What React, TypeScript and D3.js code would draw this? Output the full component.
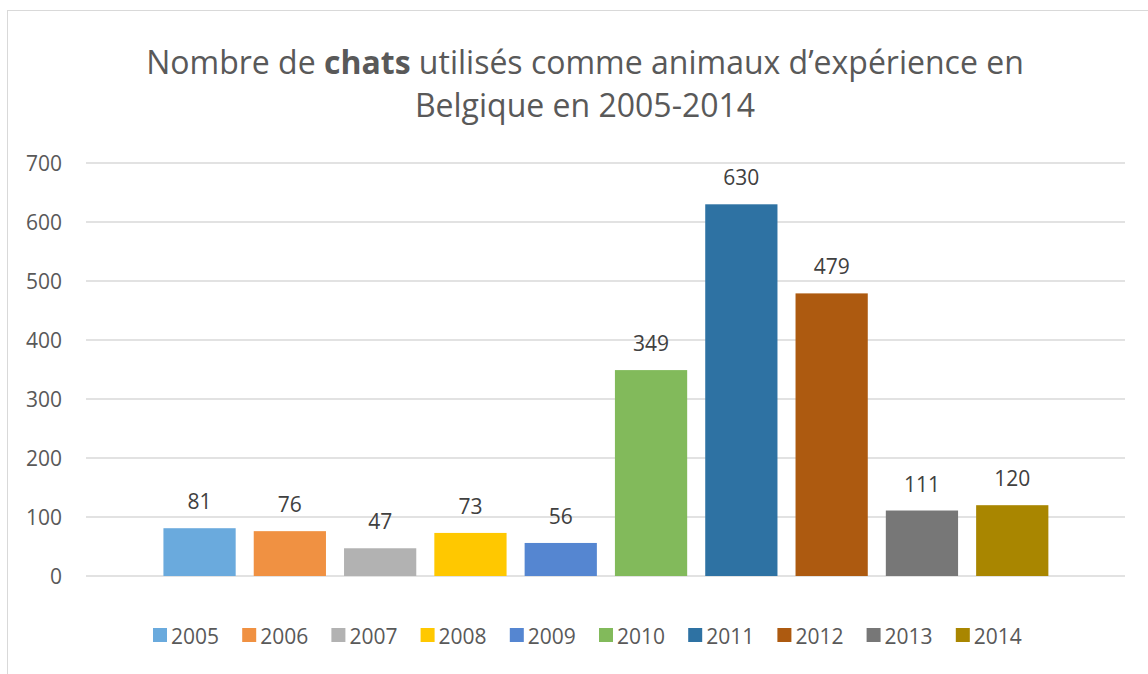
import React from "react";
import * as d3 from "d3";

const years = ["2005", "2006", "2007", "2008", "2009", "2010", "2011", "2012", "2013", "2014"];
const values = [81, 76, 47, 73, 56, 349, 630, 479, 111, 120];
const colors = ["#6aaadd", "#f09142", "#b2b2b2", "#ffc800", "#5586d1", "#82ba5b", "#2e72a3", "#ad5a10", "#777777", "#a98600"];
const yTicks = [0, 100, 200, 300, 400, 500, 600, 700];

const W = 1148;
const H = 674;
const FONT = "'Open Sans', 'Noto Sans', sans-serif";
const TXT = "#595959";

export default function App() {
  const x = d3.scaleBand<string>().domain(years).range([154.4, 1057.4]).paddingInner(0.2).paddingOuter(0.1);
  const y = d3.scaleLinear().domain([0, 700]).range([576, 163]);
  const legendX = d3.scaleBand<string>().domain(years).range([153, 1045]);

  return (
    <svg width={W} height={H} style={{ position: "absolute", left: 0, top: 0 }} fontFamily={FONT}>
      <rect x={0} y={0} width={W} height={H} fill="#fff" />
      <rect x={7.5} y={10.5} width={W + 10} height={H + 10} fill="none" stroke="#d9d9d9" strokeWidth={1} />
      <text x={585} y={74} textAnchor="middle" fontSize={32} fill={TXT}>
        Nombre de <tspan fontWeight="bold">chats</tspan> utilisés comme animaux d’expérience en
      </text>
      <text x={585} y={117} textAnchor="middle" fontSize={32} fill={TXT}>
        Belgique en 2005-2014
      </text>
      {yTicks.map((t) => (
        <g key={t}>
          <line x1={86} x2={1125} y1={y(t)} y2={y(t)} stroke="#d9d9d9" strokeWidth={1.3} />
          <text x={62} y={y(t) + 1} dy="0.35em" textAnchor="end" fontSize={21} fill={TXT}>
            {t}
          </text>
        </g>
      ))}
      {years.map((yr, i) => (
        <g key={yr}>
          <rect x={x(yr)} y={y(values[i])} width={x.bandwidth()} height={y(0) - y(values[i])} fill={colors[i]} />
          <text x={(x(yr) as number) + x.bandwidth() / 2} y={y(values[i]) - 19} textAnchor="middle" fontSize={21} fill="#404040">
            {values[i]}
          </text>
        </g>
      ))}
      {years.map((yr, i) => (
        <g key={"l" + yr} transform={`translate(${legendX(yr)},628)`}>
          <rect x={0} y={0} width={14} height={14} fill={colors[i]} />
          <text x={18} y={8} dy="0.36em" fontSize={21} fill={TXT}>
            {yr}
          </text>
        </g>
      ))}
    </svg>
  );
}
